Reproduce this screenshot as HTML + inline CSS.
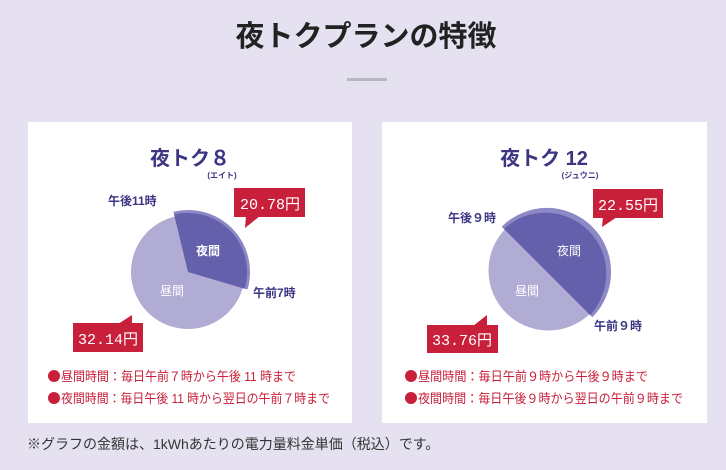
<!DOCTYPE html><html><head><meta charset="utf-8"><style>
html,body{margin:0;padding:0;background:#e6e1f0;}
svg{display:block;font-family:"Liberation Sans","Noto Sans CJK JP",sans-serif;}
</style></head><body>
<svg width="726" height="470" viewBox="0 0 726 470">
<rect width="726" height="470" fill="#e6e1f0"/>
<text x="366" y="46" text-anchor="middle" font-size="29" font-weight="bold" fill="#222">夜トクプランの特徴</text>
<rect x="347" y="78" width="40" height="3" fill="#b8b6c2"/>
<rect x="28" y="122" width="324" height="301" fill="#fff"/>
<rect x="382" y="122" width="325" height="301" fill="#fff"/>

<!-- left -->
<text x="190" y="165" text-anchor="middle" font-size="20" font-weight="bold" fill="#3b3583">夜トク８</text>
<text x="222" y="178" text-anchor="middle" font-size="8" font-weight="bold" fill="#3b3583">(エイト)</text>
<path d="M188,272 L242.7,288.1 A57,57 0 1 1 174.6,216.6 Z" fill="#b0acd4"/>
<path d="M188,272 L173.4,211.7 A62,62 0 0 1 247.5,289.5 Z" fill="#8d88c6"/>
<path d="M188,272 L174.1,214.6 A59,59 0 0 1 244.6,288.7 Z" fill="#6560ab"/>
<text x="208" y="255" text-anchor="middle" font-size="12" fill="#fff" font-weight="bold">夜間</text>
<text x="172" y="295" text-anchor="middle" font-size="12" fill="#fff">昼間</text>
<text x="108" y="205" font-size="12" font-weight="bold" fill="#3b3583">午後11時</text>
<text x="253" y="297" font-size="12" font-weight="bold" fill="#3b3583">午前7時</text>
<rect x="234" y="188" width="71" height="29" fill="#c8203a"/>
<path d="M246,216 L260,216 L245,228 Z" fill="#c8203a"/>
<text x="270" y="209" text-anchor="middle" font-size="15" fill="#fff" font-family="Liberation Mono,Noto Sans CJK JP,monospace">20.78円</text>
<rect x="73" y="323" width="70" height="29" fill="#c8203a"/>
<path d="M118,324 L132,315 L132,324 Z" fill="#c8203a"/>
<text x="108" y="344" text-anchor="middle" font-size="15" fill="#fff" font-family="Liberation Mono,Noto Sans CJK JP,monospace">32.14円</text>
<circle cx="54" cy="376" r="6" fill="#c8203a"/>
<circle cx="54" cy="398" r="6" fill="#c8203a"/>
<text x="61" y="381" font-size="13" fill="#c8203a" textLength="235" lengthAdjust="spacingAndGlyphs">昼間時間：毎日午前７時から午後 11 時まで</text>
<text x="61" y="403" font-size="13" fill="#c8203a" textLength="269" lengthAdjust="spacingAndGlyphs">夜間時間：毎日午後 11 時から翌日の午前７時まで</text>

<!-- right -->
<text x="544" y="165" text-anchor="middle" font-size="20" font-weight="bold" fill="#3b3583">夜トク 12</text>
<text x="580" y="178" text-anchor="middle" font-size="8" font-weight="bold" fill="#3b3583">(ジュウニ)</text>
<path d="M547,272 L589.4,314.4 A60,60 0 0 1 504.6,229.6 Z" fill="#b0acd4"/>
<path d="M547,272 L501.7,226.7 A64,64 0 0 1 592.3,317.3 Z" fill="#8d88c6"/>
<path d="M547,272 L503.9,228.9 A61,61 0 0 1 590.1,315.1 Z" fill="#6560ab"/>
<text x="569" y="255" text-anchor="middle" font-size="12" fill="#fff">夜間</text>
<text x="527" y="295" text-anchor="middle" font-size="12" fill="#fff">昼間</text>
<text x="448" y="222" font-size="12" font-weight="bold" fill="#3b3583">午後９時</text>
<text x="594" y="330" font-size="12" font-weight="bold" fill="#3b3583">午前９時</text>
<rect x="593" y="189" width="70" height="29" fill="#c8203a"/>
<path d="M603,217 L617,217 L602,227 Z" fill="#c8203a"/>
<text x="628" y="210" text-anchor="middle" font-size="15" fill="#fff" font-family="Liberation Mono,Noto Sans CJK JP,monospace">22.55円</text>
<rect x="427" y="325" width="71" height="28" fill="#c8203a"/>
<path d="M473,326 L487,315 L487,326 Z" fill="#c8203a"/>
<text x="462" y="345" text-anchor="middle" font-size="15" fill="#fff" font-family="Liberation Mono,Noto Sans CJK JP,monospace">33.76円</text>
<circle cx="411" cy="376" r="6" fill="#c8203a"/>
<circle cx="411" cy="398" r="6" fill="#c8203a"/>
<text x="418" y="381" font-size="13" fill="#c8203a" textLength="230" lengthAdjust="spacingAndGlyphs">昼間時間：毎日午前９時から午後９時まで</text>
<text x="418" y="403" font-size="13" fill="#c8203a" textLength="265" lengthAdjust="spacingAndGlyphs">夜間時間：毎日午後９時から翌日の午前９時まで</text>

<text x="27" y="449" font-size="14" fill="#333">※グラフの金額は、1kWhあたりの電力量料金単価（税込）です。</text>
</svg>
</body></html>
